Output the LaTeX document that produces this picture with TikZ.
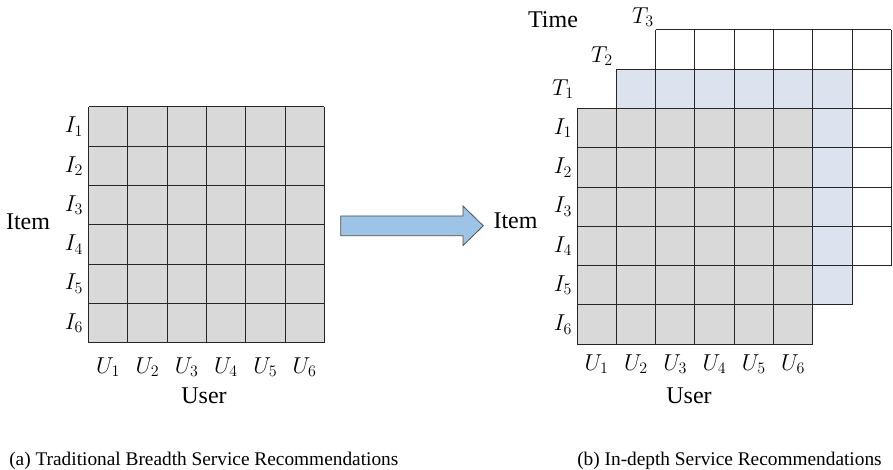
\documentclass[tikz,border=0pt]{standalone}
\usepackage{fontspec}
\setmainfont{Liberation Serif}
\definecolor{cellgray}{HTML}{D9D9D9}
\definecolor{cellblue}{HTML}{DCE3EE}
\definecolor{arrowblue}{HTML}{9DC3E6}
\definecolor{arrowedge}{HTML}{505050}
\def\cw{39.3}
\tikzset{
  gridline/.style={draw=black!85, line width=0.75pt},
  pics/cellgrid/.style={code={
    \fill[#1] (0,0) rectangle (6*\cw,6*\cw);
    \foreach \k in {0,...,6}{
      \draw[gridline] (\k*\cw,0) -- (\k*\cw,6*\cw);
      \draw[gridline] (0,\k*\cw) -- (6*\cw,\k*\cw);
    }
  }},
  axislabel/.style={font=\fontsize{18}{20}\selectfont, inner sep=0pt},
  idxlabel/.style={font=\fontsize{17.5}{19}\selectfont, inner sep=0pt},
  caption/.style={font=\fontsize{14.5}{16}\selectfont, inner sep=0pt, anchor=base west},
}
\begin{document}
\begin{tikzpicture}[x=0.75pt,y=-0.75pt]
\useasboundingbox (0,0) rectangle (893,470);

% (a) user-item matrix
\pic at (88.5,107) {cellgrid=cellgray};
\foreach \k in {1,...,6}{
  \node[idxlabel] (la-i\k) at (74,{107+(\k-0.5)*\cw}) {$I_{\k}$};
  \node[idxlabel] (la-u\k) at ({88.5+(\k-0.5)*\cw},367) {$U_{\k}$};
}
\node[axislabel] (la-item) at (28,222) {Item};
\node[axislabel] (la-user) at (204,396) {User};

% transition arrow
\draw[fill=arrowblue, draw=arrowedge, line width=0.6pt]
  (340.7,216) -- (463,216) -- (463,206) -- (483.3,225.8)
  -- (463,245.5) -- (463,235.7) -- (340.7,235.7) -- cycle;

% (b) user-item-time tensor, back slices first
\pic at (655.6,29.9) {cellgrid=white};
\pic at (616.3,69.2) {cellgrid=cellblue};
\pic at (577,108.5) {cellgrid=cellgray};
\foreach \k in {1,...,6}{
  \node[idxlabel] (lb-i\k) at (563,{108.5+(\k-0.5)*\cw}) {$I_{\k}$};
  \node[idxlabel] (lb-u\k) at ({577+(\k-0.5)*\cw},364) {$U_{\k}$};
}
\node[idxlabel] (lb-t1) at (563,89) {$T_{1}$};
\node[idxlabel] (lb-t2) at (602,56) {$T_{2}$};
\node[idxlabel] (lb-t3) at (643,17) {$T_{3}$};
\node[axislabel] (lb-time) at (553,20) {Time};
\node[axislabel] (lb-item) at (515.5,221) {Item};
\node[axislabel] (lb-user) at (689,396) {User};

% captions
\node[caption] (cap-a) at (9,465) {(a) Traditional Breadth Service Recommendations};
\node[caption] (cap-b) at (577,465) {(b) In-depth Service Recommendations};
\end{tikzpicture}
\end{document}
